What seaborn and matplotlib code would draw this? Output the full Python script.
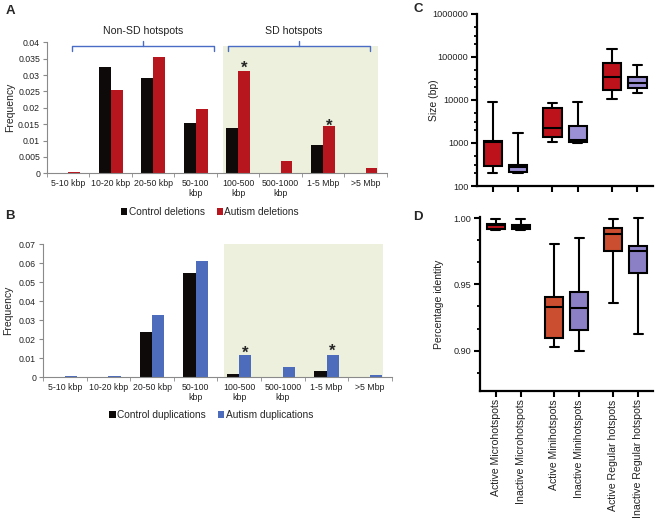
import numpy as np
import pandas as pd
import matplotlib
matplotlib.use("Agg")
import matplotlib.pyplot as plt
from matplotlib.patches import Rectangle
from matplotlib.ticker import FixedLocator, FuncFormatter, MultipleLocator, LogLocator, NullFormatter
import seaborn as sns

# ---- data ----
sizes = ["5-10 kbp", "10-20 kbp", "20-50 kbp", "50-100\nkbp", "100-500\nkbp",
         "500-1000\nkbp", "1-5 Mbp", ">5 Mbp"]
ctrl_del = [0, 0.0326, 0.0292, 0.0155, 0.0139, 0, 0.0087, 0]
aut_del = [0.0003, 0.0254, 0.0354, 0.0197, 0.0312, 0.0039, 0.0144, 0.0015]
ctrl_dup = [0, 0, 0.0240, 0.0547, 0.0016, 0, 0.0033, 0]
aut_dup = [0.0005, 0.0009, 0.0326, 0.0611, 0.0119, 0.0054, 0.0119, 0.0012]

hotspots = ["Active Microhotspots", "Inactive Microhotspots", "Active Minihotspots",
            "Inactive Minihotspots", "Active Regular hotspots", "Inactive Regular hotspots"]
# min, q1, median, q3, max
size_stats = [[200, 285, 1080, 1120, 9100],
              [200, 214, 275, 316, 1720],
              [1060, 1380, 2200, 6400, 8600],
              [1000, 1050, 1200, 2500, 9100],
              [10500, 17000, 34000, 74000, 150000],
              [14800, 18700, 25000, 34000, 64000]]
ident_stats = [[0.9907, 0.9920, 0.9947, 0.9957, 0.9992],
               [0.9907, 0.9917, 0.9932, 0.9947, 0.9992],
               [0.9025, 0.9098, 0.9332, 0.9407, 0.9804],
               [0.9000, 0.9156, 0.9319, 0.9442, 0.9847],
               [0.9362, 0.9755, 0.9879, 0.9922, 0.9992],
               [0.9123, 0.9588, 0.9749, 0.9792, 1.0000]]

box_pos = [0, 1, 2.35, 3.35, 4.7, 5.7]

sns.set_style("white")
plt.rcParams["font.family"] = ["Liberation Sans", "DejaVu Sans"]

fig = plt.figure(figsize=(6.56, 5.2), dpi=100)

shade = "#edf0dc"
brace_col = "#4a6cc4"
grey = "#8a8a8a"


def bar_panel(rect, ctrl, aut, names, colors, ymax, ystep, shade_top, ylab_x):
    ax = fig.add_axes(rect)
    df = pd.DataFrame({"size": sizes * 2, "freq": ctrl + aut,
                       "group": [names[0]] * len(sizes) + [names[1]] * len(sizes)})
    sns.barplot(data=df, x="size", y="freq", hue="group", palette=colors,
                width=0.56, saturation=1, errorbar=None, linewidth=0, ax=ax)
    ax.add_patch(Rectangle((3.64, 0), 3.66, shade_top, color=shade, zorder=0, lw=0))
    ax.set_xlim(-0.5, 7.5)
    ax.set_ylim(0, ymax)
    ax.yaxis.set_major_locator(MultipleLocator(ystep))
    ax.yaxis.set_major_formatter(FuncFormatter(lambda v, p: "%g" % round(v, 4)))
    ax.xaxis.set_minor_locator(FixedLocator(np.arange(-0.5, 8, 1)))
    ax.tick_params(axis="x", which="major", bottom=True, length=0, pad=4, labelsize=6.3,
                   colors="#222222")
    ax.tick_params(axis="x", which="minor", bottom=True, length=3, color=grey, direction="out")
    ax.tick_params(axis="y", left=True, length=3, color=grey, direction="out", labelsize=6.3,
                   labelcolor="#222222", pad=2)
    for s in ["top", "right"]:
        ax.spines[s].set_visible(False)
    for s in ["left", "bottom"]:
        ax.spines[s].set_color(grey)
        ax.spines[s].set_linewidth(0.8)
    ax.set_xlabel("")
    ax.set_ylabel("Frequency", fontsize=7.5, color="#222222")
    ax.yaxis.set_label_coords(ylab_x, 0.5)
    for t in ax.get_xticklabels():
        t.set_linespacing(1.1)
    h, l = ax.get_legend_handles_labels()
    ax.get_legend().remove()
    return ax, h, l


def star(ax, x, y):
    ax.text(x, y, "*", ha="center", va="baseline", fontsize=12, fontweight="bold")


# ---- A ----
axA, hA, lA = bar_panel([0.0716, 0.6667, 0.518, 0.252], ctrl_del, aut_del,
                        ["Control deletions", "Autism deletions"], ["#0e0a0a", "#b8161e"],
                        0.04, 0.005, 0.039, -0.094)
fig.legend(hA, lA, loc="center", bbox_to_anchor=(0.32, 0.592), ncol=2, frameon=False,
           fontsize=7.3, handlelength=0.6, handleheight=0.6, handletextpad=0.15,
           columnspacing=1.2)


def brace(ax, x0, x1, y, h, color):
    xm = (x0 + x1) / 2
    ax.plot([x0, x0, x1, x1], [y - h, y, y, y - h], color=color, lw=1, clip_on=False)
    ax.plot([xm, xm], [y, y + h * 0.8], color=color, lw=1, clip_on=False)


brace(axA, 0.09, 3.43, 0.0390, 0.0016, brace_col)
brace(axA, 3.76, 7.1, 0.0390, 0.0016, brace_col)
axA.text(1.76, 0.0433, "Non-SD hotspots", ha="center", va="center", fontsize=7.6, color="#222222")
axA.text(5.3, 0.0433, "SD hotspots", ha="center", va="center", fontsize=7.6, color="#222222")
star(axA, 4.14, 0.0308)
star(axA, 6.14, 0.0131)

# ---- B ----
axB, hB, lB = bar_panel([0.0655, 0.2744, 0.532, 0.2558], ctrl_dup, aut_dup,
                        ["Control duplications", "Autism duplications"], ["#0e0a0a", "#4d6cbc"],
                        0.07, 0.01, 0.07, -0.086)
fig.legend(hB, lB, loc="center", bbox_to_anchor=(0.322, 0.202), ncol=2, frameon=False,
           fontsize=7.3, handlelength=0.6, handleheight=0.6, handletextpad=0.15,
           columnspacing=1.2)
star(axB, 4.14, 0.0102)
star(axB, 6.14, 0.0111)


def box_panel(rect, stats, colors, log):
    ax = fig.add_axes(rect)
    if log:
        ax.set_yscale("log")
    df = pd.DataFrame({"pos": np.repeat(box_pos, 5), "val": np.concatenate(stats),
                       "hs": np.repeat(hotspots, 5)})
    sns.boxplot(data=df, x="pos", y="val", hue="hs", palette=dict(zip(hotspots, colors)),
                native_scale=True, dodge=False, width=0.72, whis=(0, 100), saturation=1,
                linecolor="black", linewidth=1.5, showfliers=False, legend=False, ax=ax)
    for art in ax.get_children():
        if hasattr(art, "set_clip_on"):
            art.set_clip_on(False)
    ax.set_xlim(-0.62, 6.3)
    ax.set_xticks(box_pos)
    for s in ["top", "right"]:
        ax.spines[s].set_visible(False)
    for s in ["left", "bottom"]:
        ax.spines[s].set_linewidth(1.6)
        ax.spines[s].set_color("black")
    ax.tick_params(axis="both", which="major", bottom=True, left=True, length=4, width=1.5,
                   direction="out", labelsize=6.6, color="black", labelcolor="#222222", pad=2)
    ax.tick_params(axis="y", which="minor", left=True, length=2.5, width=1.3, direction="out",
                   color="black")
    ax.set_xlabel("")
    return ax


# ---- C ----
axC = box_panel([0.727, 0.6423, 0.268, 0.331], size_stats,
                ["#bd121c", "#9b90d4", "#bd121c", "#9b90d4", "#bd121c", "#9b90d4"], True)
axC.set_ylim(100, 1e6)
axC.yaxis.set_major_locator(FixedLocator([100, 1e3, 1e4, 1e5, 1e6]))
axC.yaxis.set_major_formatter(FuncFormatter(lambda v, p: "%d" % v))
axC.yaxis.set_minor_locator(LogLocator(base=10, subs=(2, 3, 5), numticks=20))
axC.yaxis.set_minor_formatter(NullFormatter())
axC.set_xticklabels([])
axC.set_ylabel("Size (bp)", fontsize=7.5, color="#222222")
axC.yaxis.set_label_coords(-0.215, 0.5)

# ---- D ----
axD = box_panel([0.7317, 0.248, 0.264, 0.335], ident_stats,
                ["#bd121c", "#8b80c6", "#cc4e30", "#8b80c6", "#cc4e30", "#8b80c6"], False)
axD.set_ylim(0.8695, 1.001)
axD.set_yticks([0.90, 0.95, 1.00])
axD.yaxis.set_major_formatter(FuncFormatter(lambda v, p: "%.2f" % v))
axD.yaxis.set_minor_locator(MultipleLocator(0.05 / 3))
axD.set_xticklabels(hotspots, rotation=90, fontsize=7.6)
axD.set_ylabel("Percentage identity", fontsize=7.5, color="#222222")
axD.yaxis.set_label_coords(-0.21, 0.5)

# panel letters
for x, y, s in [(0.008, 0.978, "A"), (0.008, 0.584, "B"), (0.63, 0.982, "C"), (0.63, 0.582, "D")]:
    fig.text(x, y, s, fontsize=9.5, fontweight="bold", ha="left", va="center")

fig.savefig("out.png", dpi=100)
